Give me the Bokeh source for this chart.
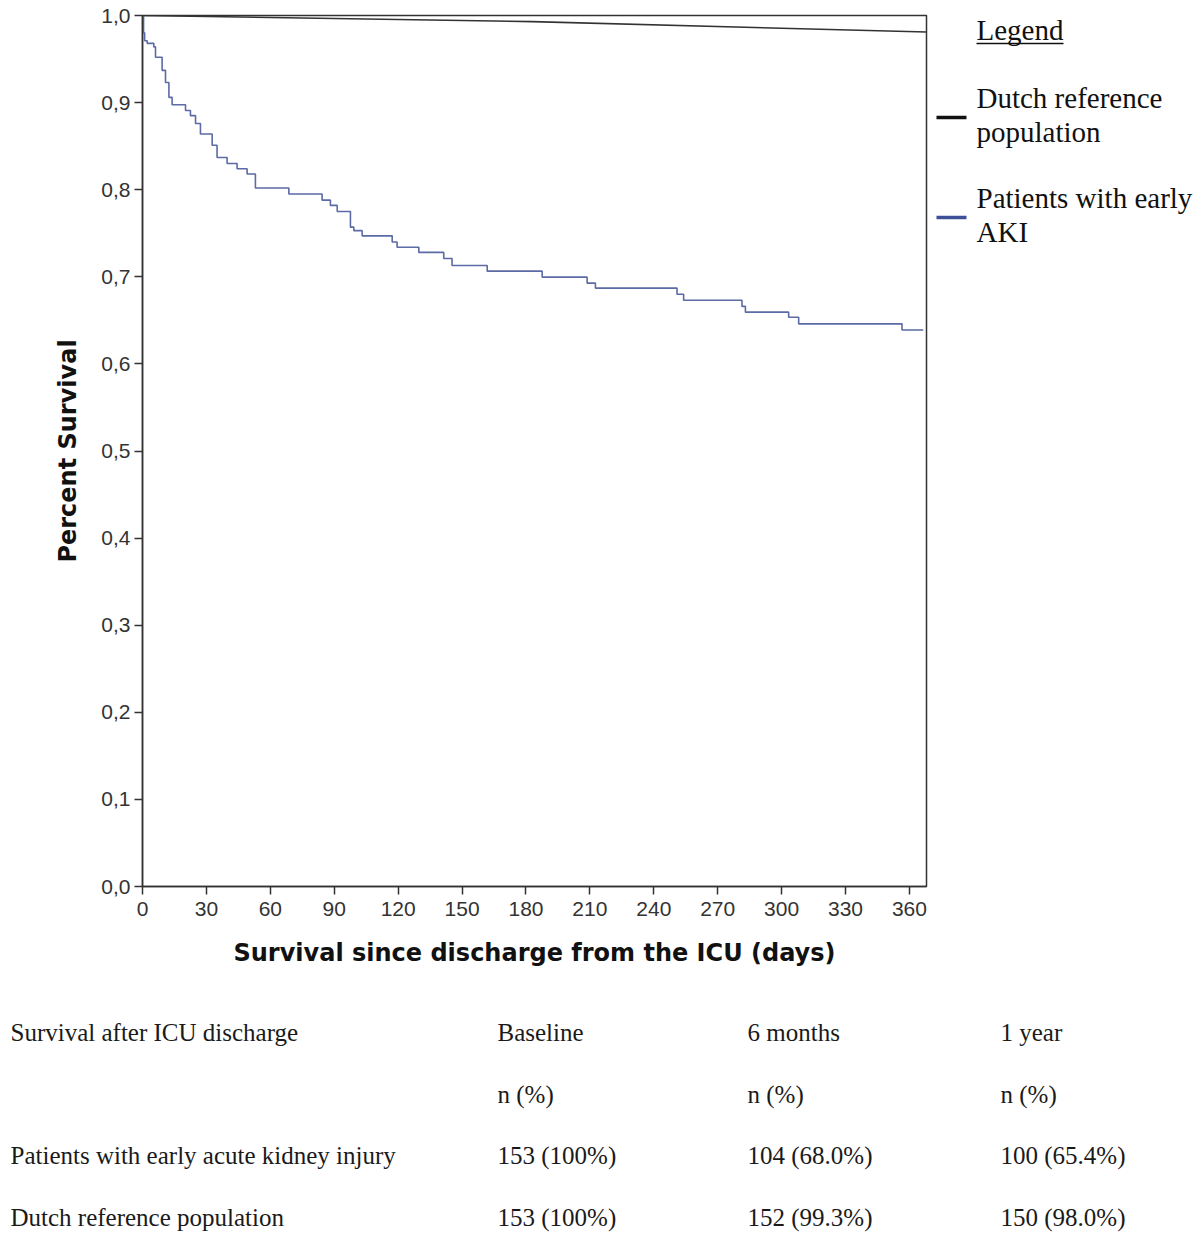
from bokeh.plotting import figure
from bokeh.layouts import column, row
from bokeh.models import Range1d, FixedTicker, CustomJSTickFormatter
from bokeh.core.properties import value
from bokeh.embed import file_html
from bokeh.resources import INLINE

# ---------------- data ----------------
aki_days = [0, 0.5, 1, 2.2, 5.3, 6.1, 9.2, 10.8, 12.4, 13.9, 20.2, 22.5, 24.9, 27.2,
            32.7, 35.0, 39.7, 44.4, 49.1, 53.0, 68.7, 84.3, 88.2, 91.4, 97.6, 99.2,
            103.1, 117.2, 119.5, 129.7, 141.4, 145.3, 161.8, 187.6, 208.7, 212.6,
            250.9, 254.0, 281.4, 283.0, 303.3, 308.0, 356.5, 366.5]
aki_surv = [1.0, 0.980, 0.971, 0.968, 0.964, 0.952, 0.937, 0.923, 0.906, 0.8975, 0.891,
            0.885, 0.876, 0.864, 0.851, 0.837, 0.830, 0.824, 0.818, 0.802, 0.795, 0.788,
            0.782, 0.775, 0.757, 0.753, 0.747, 0.740, 0.734, 0.728, 0.721, 0.713, 0.7065,
            0.6996, 0.6927, 0.687, 0.680, 0.673, 0.666, 0.6594, 0.6536, 0.646, 0.639, 0.639]

dutch_days = [0, 183, 368]
dutch_surv = [1.0, 0.993, 0.981]

x_ticks = [0, 30, 60, 90, 120, 150, 180, 210, 240, 270, 300, 330, 360]
y_ticks = [0.0, 0.1, 0.2, 0.3, 0.4, 0.5, 0.6, 0.7, 0.8, 0.9, 1.0]

legend_title = "Legend"
legend_labels = [["Dutch reference", "population"], ["Patients with early", "AKI"]]

table_header = ["Survival after ICU discharge", "Baseline", "6 months", "1 year"]
table_units = ["", "n (%)", "n (%)", "n (%)"]
table_aki = ["Patients with early acute kidney injury", "153 (100%)", "104 (68.0%)", "100 (65.4%)"]
table_dutch = ["Dutch reference population", "153 (100%)", "152 (99.3%)", "150 (98.0%)"]

AKI_COLOR = "#5c6aa5"
DUTCH_COLOR = "#333333"
SERIF = value("Liberation Serif")

# ---------------- main plot ----------------
p = figure(width=930, height=980, output_backend="svg", toolbar_location=None,
           x_range=Range1d(0, 368), y_range=Range1d(0, 1.0),
           min_border_left=142, min_border_right=4, min_border_top=15, min_border_bottom=94)
p.step(aki_days, aki_surv, mode="after", line_color=AKI_COLOR, line_width=1.6)
p.line(dutch_days, dutch_surv, line_color=DUTCH_COLOR, line_width=1.6)

p.grid.visible = False
p.outline_line_color = "#333333"
p.outline_line_width = 1.5
p.background_fill_color = "white"

p.xaxis.ticker = FixedTicker(ticks=x_ticks)
p.yaxis.ticker = FixedTicker(ticks=y_ticks)
p.yaxis.formatter = CustomJSTickFormatter(code="return tick.toFixed(1).replace('.', ',');")
for ax in (p.xaxis, p.yaxis):
    ax.axis_line_color = "#333333"
    ax.axis_line_width = 1.5
    ax.major_tick_line_color = "#333333"
    ax.major_tick_line_width = 1.5
    ax.major_tick_in = 0
    ax.major_tick_out = 8
    ax.minor_tick_line_color = None
    ax.major_label_text_font = "Liberation Sans"
    ax.major_label_text_font_size = "21px"
    ax.major_label_text_color = "#333333"
    ax.axis_label_text_font = "DejaVu Sans"
    ax.axis_label_text_font_style = "bold"
    ax.axis_label_text_font_size = "24px"
    ax.axis_label_text_color = "#111111"
p.xaxis.major_label_standoff = 7
p.yaxis.major_label_standoff = 4
p.xaxis.axis_label = "Survival since discharge from the ICU (days)"
p.yaxis.axis_label = "Percent Survival"
p.xaxis.axis_label_standoff = 20
p.yaxis.axis_label_standoff = 16

# ---------------- legend panel (frame aligned with main plot frame) ----------------
lg = figure(width=270, height=980, output_backend="svg", toolbar_location=None,
            x_range=Range1d(0, 270), y_range=Range1d(886, 15),
            x_axis_location=None, y_axis_location=None,
            min_border=0, outline_line_color=None)
lg.grid.visible = False
lg.text(x=[46], y=[29], text=[legend_title], text_font=SERIF, text_font_size="29px",
        text_baseline="middle", text_align="left", text_color="#111111")
lg.segment(x0=[46], y0=[43], x1=[133], y1=[43], line_color="#111111", line_width=1.5)
swatch_colors = ["#111111", "#3e4f97"]
swatch_y = [117, 217]
for lab, c, sy in zip(legend_labels, swatch_colors, swatch_y):
    lg.segment(x0=[6], y0=[sy], x1=[36], y1=[sy], line_color=c, line_width=3.5)
    lg.text(x=[46, 46], y=[sy - 20, sy + 14], text=lab, text_font=SERIF,
            text_font_size="29px", text_baseline="middle", text_align="left",
            text_color="#111111")

# ---------------- table ----------------
tb = figure(width=1200, height=257, output_backend="svg", toolbar_location=None,
            x_range=Range1d(0, 1200), y_range=Range1d(257, 0),
            x_axis_location=None, y_axis_location=None,
            min_border=0, outline_line_color=None)
tb.grid.visible = False
col_x = [10, 497, 747, 1000]
row_y = [52, 114, 175, 237]
for r, ry in zip([table_header, table_units, table_aki, table_dutch], row_y):
    tb.text(x=col_x, y=[ry] * 4, text=r, text_font=SERIF, text_font_size="25px",
            text_baseline="middle", text_align="left", text_color="#1a1a1a")

layout = column(row(p, lg), tb)
open("out.html", "w").write(file_html(layout, INLINE))
